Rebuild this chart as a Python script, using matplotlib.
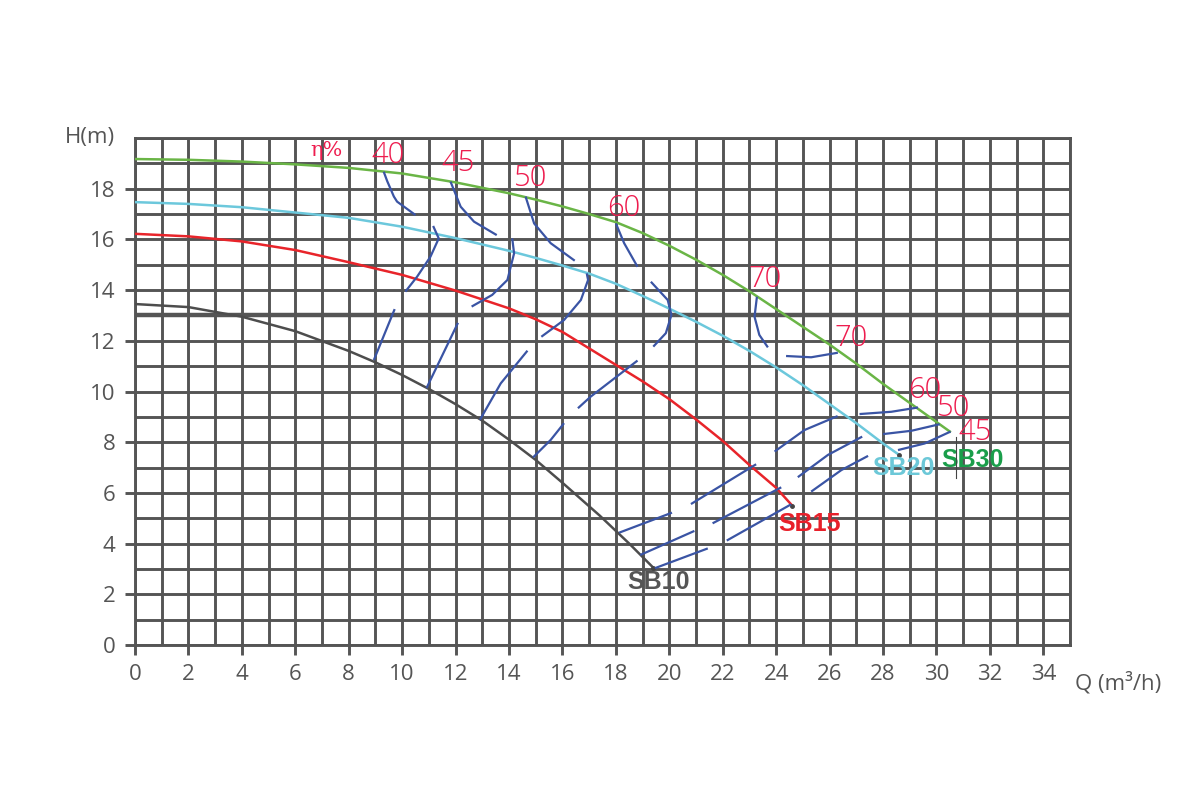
import matplotlib
matplotlib.use("Agg")
import matplotlib.pyplot as plt
import numpy as np

# pump curves H(Q)
sb10_q = [0, 2, 4, 6, 8, 9, 10, 11, 12, 13, 14, 15, 16, 17.4, 18.5, 19.4]
sb10_h = [13.45, 13.33, 12.95, 12.38, 11.6, 11.15, 10.65, 10.1, 9.5, 8.85,
          8.1, 7.3, 6.4, 5.1, 4.0, 3.05]

sb15_q = [0, 2, 4, 6, 8, 10, 12, 14, 15, 16, 17, 18, 19, 20, 21, 22, 23, 24, 24.6]
sb15_h = [16.22, 16.12, 15.92, 15.58, 15.1, 14.6, 13.98, 13.28, 12.85, 12.35,
          11.7, 11.05, 10.4, 9.7, 8.9, 8.05, 7.1, 6.2, 5.5]

sb20_q = [0, 2, 4, 6, 8, 10, 12, 14, 15, 16, 17, 18, 19, 20, 21, 22, 23, 24,
          25, 26, 27, 28, 28.6]
sb20_h = [17.47, 17.4, 17.27, 17.06, 16.85, 16.5, 16.05, 15.55, 15.27, 14.97,
          14.65, 14.25, 13.77, 13.27, 12.75, 12.2, 11.6, 10.95, 10.25, 9.5,
          8.75, 7.95, 7.5]

sb30_q = [0, 2, 4, 6, 8, 10, 12, 14, 15, 16, 17, 18, 19, 20, 21, 22, 23, 24,
          25, 26, 27, 28, 29.2, 30.5]
sb30_h = [19.17, 19.14, 19.07, 18.96, 18.82, 18.6, 18.25, 17.82, 17.57, 17.3,
          17.0, 16.68, 16.25, 15.75, 15.2, 14.6, 13.95, 13.25, 12.55, 11.85,
          11.1, 10.3, 9.4, 8.42]

# efficiency iso-lines, each one a list of drawn pieces [(Q, H), ...]
eff_40 = [
    [(9.31, 18.67), (9.44, 18.3), (9.69, 17.69), (9.81, 17.49), (10.5, 16.96)],
    [(11.16, 16.53), (11.37, 16.04), (11.06, 15.32), (10.56, 14.53), (10.12, 13.94)],
    [(9.72, 13.25), (8.94, 11.24)],
]
eff_45 = [
    [(11.81, 18.28), (12.19, 17.29), (12.69, 16.7), (13.54, 16.17)],
    [(14.12, 16.04), (14.19, 15.45), (13.94, 14.4), (13.37, 13.81), (12.6, 13.35)],
    [(12.09, 12.71), (10.91, 10.13)],
]
eff_50 = [
    [(14.62, 17.69), (14.94, 16.63), (15.56, 15.85), (16.46, 15.16)],
    [(16.91, 14.66), (16.96, 14.4), (16.69, 13.61), (16.06, 12.82), (15.21, 12.16)],
    [(14.69, 11.61), (13.69, 10.32), (12.91, 8.88)],
]
eff_60 = [
    [(18.0, 16.63), (18.31, 15.85), (18.81, 14.92)],
    [(19.31, 14.33), (19.94, 13.61), (20.08, 13.02), (19.87, 12.3), (19.4, 11.77)],
    [(18.81, 11.22), (17.06, 9.8), (16.58, 9.34)],
    [(16.06, 8.75), (15.56, 8.09), (14.9, 7.4)],
]
eff_70 = [
    [(23.28, 13.74), (23.19, 12.95), (23.37, 12.23), (23.69, 11.74)],
    [(24.37, 11.4), (25.31, 11.35), (26.31, 11.53)],
]
eff_60_low = [
    [(29.31, 9.37), (28.31, 9.2), (27.12, 9.11)],
    [(26.3, 9.03), (25.06, 8.48), (23.94, 7.63)],
    [(23.25, 7.13), (20.81, 5.56)],
    [(20.1, 5.22), (18.12, 4.43)],
]
eff_50_low = [
    [(30.12, 8.71), (29.06, 8.45), (28.0, 8.32)],
    [(27.22, 8.22), (25.94, 7.5), (24.81, 6.62)],
    [(24.19, 6.22), (21.62, 4.8)],
    [(20.94, 4.5), (18.91, 3.55)],
]
eff_45_low = [
    [(30.53, 8.42), (29.56, 7.95), (28.56, 7.69)],
    [(27.44, 7.46), (26.44, 6.9), (25.31, 6.05)],
    [(24.56, 5.55), (22.15, 4.12)],
    [(21.44, 3.81), (19.46, 3.03)],
]

eff_labels = ["40", "45", "50", "60", "70", "70", "60", "50", "45"]
eff_label_q = [9.47, 12.11, 14.81, 18.3, 23.58, 26.81, 29.56, 30.63, 31.45]
eff_label_h = [19.33, 18.99, 18.4, 17.22, 14.42, 12.09, 10.04, 9.35, 8.4]

pump_names = ["SB10", "SB15", "SB20", "SB30"]
pump_label_q = [19.59, 25.25, 28.78, 31.35]
pump_label_h = [2.49, 4.77, 7.0, 7.3]

grid_col = "#555555"
blue = "#3a54a4"
pink = "#ee1d4f"

fig = plt.figure(figsize=(12, 8), dpi=100)
ax = fig.add_axes([0.1125, 0.19375, 0.7792, 0.63375])

ax.set_xlim(0, 35)
ax.set_ylim(0, 20)
ax.set_xticks(np.arange(0, 35, 2))
ax.set_yticks(np.arange(0, 19, 2))
ax.set_xticks(np.arange(0, 36, 1), minor=True)
ax.set_yticks(np.arange(0, 21, 1), minor=True)
ax.grid(which="both", color=grid_col, lw=2.1, zorder=0)
ax.axhline(13, color=grid_col, lw=3.2, zorder=0.5)
ax.tick_params(which="major", length=7, width=2.1, color=grid_col,
               labelsize=16, labelcolor="#555555", pad=7)
ax.tick_params(which="minor", length=0)
for lab in ax.get_xticklabels() + ax.get_yticklabels():
    lab.set_family("Open Sans")
for s in ax.spines.values():
    s.set_color(grid_col)
    s.set_linewidth(2.1)
ax.set_axisbelow(True)

# pump curves
ax.plot(sb10_q, sb10_h, color="#4d4d4d", lw=1.8, zorder=3)
ax.plot(sb15_q, sb15_h, color="#e8242a", lw=1.8, zorder=3)
ax.plot(sb20_q, sb20_h, color="#6cc8dc", lw=1.8, zorder=3)
ax.plot(sb30_q, sb30_h, color="#6ab546", lw=1.8, zorder=3)
for q, h in [(sb10_q[-1], sb10_h[-1]), (sb15_q[-1], sb15_h[-1]), (sb20_q[-1], sb20_h[-1])]:
    ax.plot(q, h, "o", ms=2.5, color="#444444", zorder=4)

# efficiency lines
for contour in [eff_40, eff_45, eff_50, eff_60, eff_70, eff_60_low, eff_50_low, eff_45_low]:
    for piece in contour:
        pts = np.array(piece)
        ax.plot(pts[:, 0], pts[:, 1], color=blue, lw=1.6, zorder=4,
                solid_capstyle="butt")

for t, q, h in zip(eff_labels, eff_label_q, eff_label_h):
    ax.text(q, h, t, color=pink, fontsize=21, ha="center", va="center",
            family="Open Sans", fontweight="light", zorder=5)
ax.text(7.16, 19.49, "η%", color=pink, fontsize=15, ha="center", va="center",
        family="DejaVu Serif", zorder=5)

pump_cols = ["#555555", "#e8202a", "#6cc8d8", "#1a9e4a"]
for name, q, h, c in zip(pump_names, pump_label_q, pump_label_h, pump_cols):
    ax.text(q, h, name, color=c, fontsize=18, fontweight="bold", ha="center",
            va="center", family="Liberation Sans", zorder=5)

# little marker line near the SB30 label
ax.plot([30.75, 30.75], [8.2, 6.6], color="#444444", lw=0.8, zorder=5)

fig.text(90 / 1200, 1 - 137 / 800, "H(m)", fontsize=16, color="#555555",
         ha="center", va="center", family="Open Sans")
fig.text(1118 / 1200, 1 - 683 / 800, "Q (m³/h)", fontsize=16, color="#555555",
         ha="center", va="center", family="Open Sans")

fig.savefig("out.png", dpi=100, facecolor="white")
